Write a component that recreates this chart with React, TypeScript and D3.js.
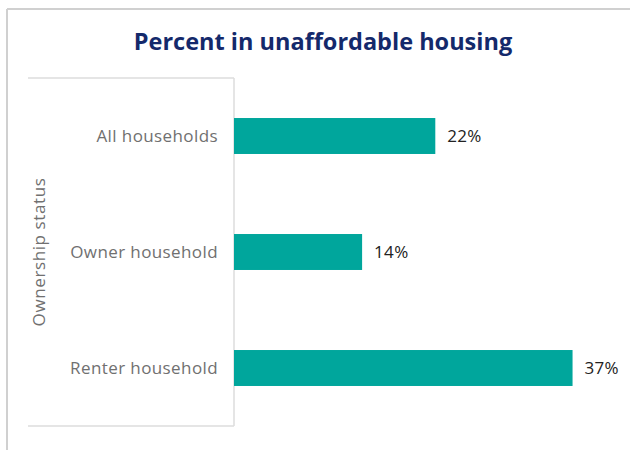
import React from "react";
import * as d3 from "d3";

const categories = ["All households", "Owner household", "Renter household"];
const values = [22, 14, 37];
const valueLabels = ["22%", "14%", "37%"];
const title = "Percent in unaffordable housing";
const axisTitle = "Ownership status";

const W = 630;
const H = 450;
const FONT = "'Open Sans', sans-serif";

export default function App() {
  const plotLeft = 234;
  const plotTop = 78;
  const plotBottom = 426;
  const x = d3.scaleLinear().domain([0, 40]).range([plotLeft, plotLeft + 366]);
  const y = d3
    .scaleBand<string>()
    .domain(categories)
    .range([plotTop, plotBottom])
    .paddingInner(0.69)
    .paddingOuter(0.345);

  return (
    <svg
      width={W}
      height={H}
      style={{ position: "absolute", left: 0, top: 0, background: "#fff" }}
      fontFamily={FONT}
    >
      {/* card border */}
      <line x1={7} y1={9} x2={W} y2={9} stroke="#d0d0d0" strokeWidth={2} />
      <line x1={7} y1={9} x2={7} y2={H} stroke="#d0d0d0" strokeWidth={2} />

      <text
        x={323}
        y={50}
        textAnchor="middle"
        fontSize={23.5}
        fontWeight={700}
        fill="#14296b"
      >
        {title}
      </text>

      {/* axis label box */}
      <line x1={28} y1={plotTop} x2={plotLeft} y2={plotTop} stroke="#dcdcdc" strokeWidth={1.5} />
      <line x1={28} y1={plotBottom} x2={plotLeft} y2={plotBottom} stroke="#dcdcdc" strokeWidth={1.5} />
      <line x1={plotLeft} y1={plotTop} x2={plotLeft} y2={plotBottom} stroke="#dcdcdc" strokeWidth={1.5} />

      <text
        transform={`translate(45, ${(plotTop + plotBottom) / 2}) rotate(-90)`}
        textAnchor="middle"
        fontSize={17}
        letterSpacing={0.6}
        fill="#707070"
      >
        {axisTitle}
      </text>

      {categories.map((c, i) => {
        const by = y(c)!;
        const bh = y.bandwidth();
        return (
          <g key={c}>
            <rect x={x(0)} y={by} width={x(values[i]) - x(0)} height={bh} fill="#00a69c" />
            <text
              x={218}
              y={by + bh / 2}
              dy="0.35em"
              textAnchor="end"
              fontSize={17}
              letterSpacing={0.4}
              fill="#707070"
            >
              {c}
            </text>
            <text
              x={x(values[i]) + 12}
              y={by + bh / 2}
              dy="0.35em"
              textAnchor="start"
              fontSize={17}
              letterSpacing={0.3}
              fill="#222"
            >
              {valueLabels[i]}
            </text>
          </g>
        );
      })}
    </svg>
  );
}
